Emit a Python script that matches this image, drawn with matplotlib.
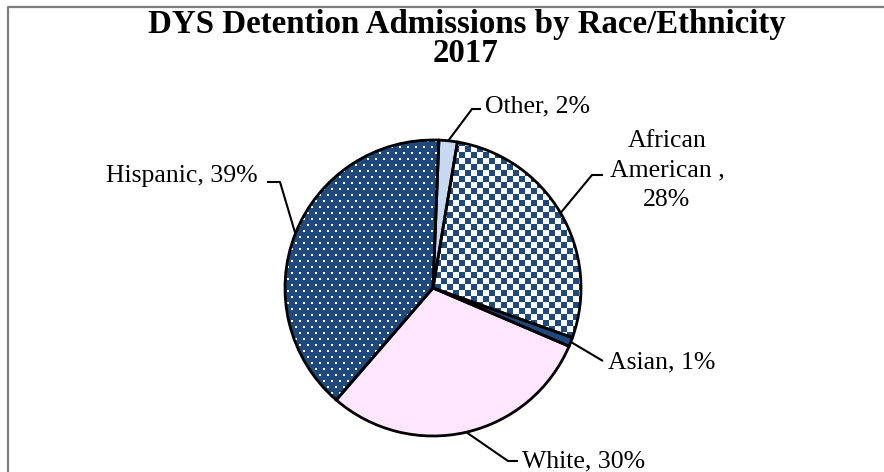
import numpy as np
import matplotlib
matplotlib.use("Agg")
import matplotlib.pyplot as plt
from matplotlib.patches import Wedge

W, H = 884, 472

# data, clockwise from just right of 12 o'clock
names = ["Other", "African\nAmerican ", "Asian", "White", "Hispanic"]
shares = [2.0, 27.8, 1.0, 29.9, 39.3]

title1 = "DYS Detention Admissions by Race/Ethnicity"
title2 = "2017"

# layout in pixel coords (origin top-left); baseline of last text line
cx, cy, rad = 433, 288, 148
label_xy = [(485, 112), (667, 206), (608, 368), (522, 467), (258, 182)]
label_ha = ["left", "center", "left", "left", "right"]
elbows = [(472, 109), (592, 175), (603, 361), (508, 461), (280, 182)]
ends = [(481, 109), (603, 175), (603, 361), (518, 461), (267, 182)]

blue = "#1F497D"
face = ["#C6D9F1", "white", blue, "#FFE6FF", blue]
texture = [None, "checker", None, None, "dots"]


def Y(y):
    return H - y


def rgb(c):
    return np.array(matplotlib.colors.to_rgb(c))


# pattern fills (pixel textures)
n = 2 * rad + 12
yy, xx = np.mgrid[0:n, 0:n]
row = yy // 6
dot = (yy % 6 < 2) & (((xx + 4 * (row % 2)) % 8) < 2)
chk = ((xx // 6) + (yy // 6)) % 2 == 0
tex = {
    "dots": np.where(dot[..., None], rgb("white"), rgb(blue)),
    "checker": np.where(chk[..., None], rgb("white"), rgb(blue)),
}

fig = plt.figure(figsize=(W / 100, H / 100), dpi=100)
ax = fig.add_axes([0, 0, 1, 1])

wedges, _ = ax.pie(shares, colors=face, startangle=87.7, counterclock=False,
                   center=(cx, Y(cy)), radius=rad,
                   wedgeprops=dict(linewidth=0))

half = n / 2
for w, t in zip(wedges, texture):
    if t is None:
        continue
    im = ax.imshow(tex[t], extent=(cx - half, cx + half, Y(cy) - half, Y(cy) + half),
                   interpolation="nearest", zorder=2)
    im.set_clip_path(w)

for w in wedges:
    ax.add_patch(Wedge(w.center, w.r, w.theta1, w.theta2, facecolor="none",
                       edgecolor="black", linewidth=2.0, zorder=3))

for i, w in enumerate(wedges):
    mid = np.deg2rad((w.theta1 + w.theta2) / 2)
    x0 = cx + rad * np.cos(mid)
    y0 = Y(cy) + rad * np.sin(mid)
    ex, ey = elbows[i]
    fx, fy = ends[i]
    ax.plot([x0, ex, fx], [y0, Y(ey), Y(fy)], color="black", lw=1.5,
            solid_capstyle="butt", zorder=4)
    sep = ",\n" if "\n" in names[i] else ", "
    txt = f"{names[i]}{sep}{shares[i]:.0f}%"
    lx, ly = label_xy[i]
    ax.text(lx, Y(ly), txt, ha=label_ha[i], va="baseline", fontsize=18.5,
            family="Liberation Serif", linespacing=1.45, multialignment="center")

ax.text(467, Y(33), title1, ha="center", va="baseline", fontsize=23.7,
        fontweight="bold", family="Liberation Serif")
ax.text(466, Y(62), title2, ha="center", va="baseline", fontsize=23.7,
        fontweight="bold", family="Liberation Serif")

# chart frame
ax.plot([8, 8, W + 5], [-5, Y(7), Y(7)], color="#7f7f7f", lw=1.6)

ax.set_xlim(0, W)
ax.set_ylim(0, H)
ax.set_aspect("equal")
ax.axis("off")

fig.savefig("out.png", dpi=100)
